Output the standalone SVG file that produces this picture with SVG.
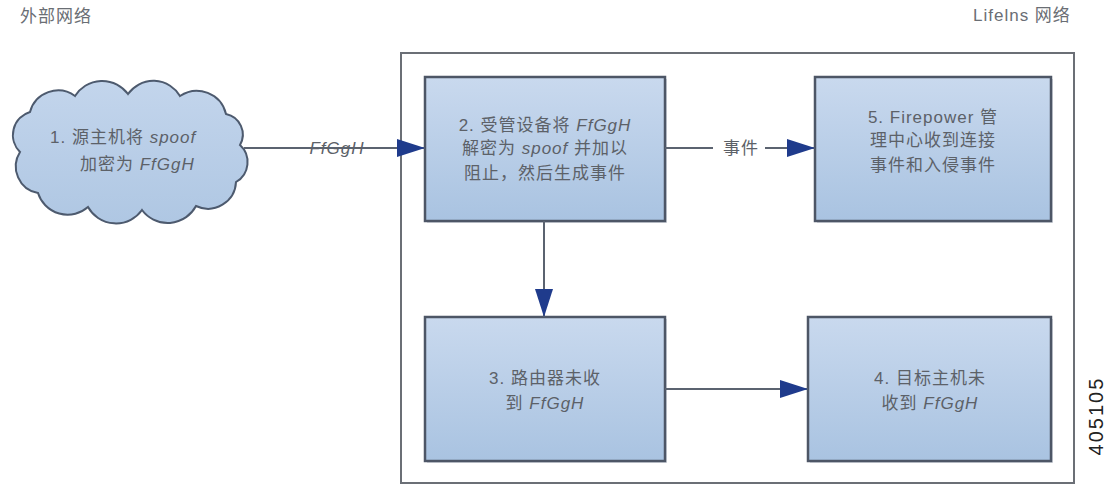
<svg xmlns="http://www.w3.org/2000/svg" width="1116" height="485" viewBox="0 0 1116 485">
<style>
  text { font-family: "Liberation Sans", "Noto Sans CJK SC", sans-serif; font-size: 17px; fill: #5c6168; letter-spacing: 1px; }
  .c { text-anchor: middle; }
  .i { font-style: italic; }
  .box { fill: url(#bg); stroke: #4d5666; stroke-width: 2.5; }
  .sh { fill: #8a96a8; opacity: 0.35; }
  .ln { stroke: #5b6370; stroke-width: 2; fill: none; }
  .lbl { fill: #6a6e74; }
</style>
<defs>
  <linearGradient id="bg" x1="0" y1="0" x2="0" y2="1">
    <stop offset="0" stop-color="#c9d9ee"/>
    <stop offset="1" stop-color="#a9c3e1"/>
  </linearGradient>
  <linearGradient id="cg" x1="0" y1="0" x2="0" y2="1">
    <stop offset="0" stop-color="#c3d5ec"/>
    <stop offset="1" stop-color="#afc7e3"/>
  </linearGradient>
  <marker id="ah" markerWidth="28" markerHeight="18" refX="28" refY="9" orient="auto" markerUnits="userSpaceOnUse">
    <path d="M0,0 L28,9 L0,18 z" fill="#1f3b8c"/>
  </marker>
</defs>
<rect width="1116" height="485" fill="#ffffff"/>

<g id="label-external"><text x="20" y="22" class="lbl">外部网络</text></g>
<g id="label-lifelns"><text x="973" y="21" class="lbl">Lifelns 网络</text></g>

<g id="lifelns-network">
  <rect x="401" y="53" width="673" height="430" fill="#ffffff" stroke="#6b6f76" stroke-width="2"/>
</g>

<g id="node1">
  <path d="M30,112 A29,29 0 0 1 75,96 A32,32 0 0 1 128,94 A31,31 0 0 1 180,96 A30,30 0 0 1 226,114 A21,21 0 0 1 240,145 A23,23 0 0 1 236,182 A28,28 0 0 1 196,206 A32,32 0 0 1 142,210 A32,32 0 0 1 88,207 A31,31 0 0 1 38,193 A27,27 0 0 1 20,152 A24,24 0 0 1 30,112 Z" fill="url(#cg)" stroke="#4d5a6e" stroke-width="2"/>
  <text x="50" y="143">1. 源主机将 <tspan class="i">spoof</tspan></text>
  <text x="80" y="170">加密为 <tspan class="i">FfGgH</tspan></text>
</g>

<g id="node2">
  <rect class="sh" x="427" y="79" width="240" height="144"/>
  <rect class="box" x="425" y="77" width="240" height="144"/>
  <text class="c" x="545" y="131">2. 受管设备将 <tspan class="i">FfGgH</tspan></text>
  <text class="c" x="545" y="154">解密为 <tspan class="i">spoof</tspan> 并加以</text>
  <text class="c" x="545" y="179">阻止，然后生成事件</text>
</g>

<g id="node5">
  <rect class="sh" x="817" y="79" width="236" height="144"/>
  <rect class="box" x="815" y="77" width="236" height="144"/>
  <text class="c" x="933" y="123">5. Firepower 管</text>
  <text class="c" x="933" y="146">理中心收到连接</text>
  <text class="c" x="933" y="171">事件和入侵事件</text>
</g>

<g id="node3">
  <rect class="sh" x="427" y="319" width="240" height="144"/>
  <rect class="box" x="425" y="317" width="240" height="144"/>
  <text class="c" x="545" y="384">3. 路由器未收</text>
  <text class="c" x="545" y="409">到 <tspan class="i">FfGgH</tspan></text>
</g>

<g id="node4">
  <rect class="sh" x="810" y="319" width="243" height="144"/>
  <rect class="box" x="808" y="317" width="243" height="144"/>
  <text class="c" x="930" y="384">4. 目标主机未</text>
  <text class="c" x="930" y="409">收到 <tspan class="i">FfGgH</tspan></text>
</g>

<g id="connectors">
  <line class="ln" x1="244" y1="148" x2="425" y2="148" marker-end="url(#ah)"/>
  <text class="c i" x="337" y="154">FfGgH</text>
  <line class="ln" x1="665" y1="148" x2="713" y2="148"/>
  <text class="c" x="741" y="154">事件</text>
  <line class="ln" x1="765" y1="148" x2="815" y2="148" marker-end="url(#ah)"/>
  <line class="ln" x1="544" y1="221" x2="544" y2="317" marker-end="url(#ah)"/>
  <line class="ln" x1="665" y1="389" x2="808" y2="389" marker-end="url(#ah)"/>
</g>

<g id="figure-id">
  <text transform="translate(1103,416) rotate(-90)" class="c" style="font-size:20px;fill:#222;letter-spacing:2px">405105</text>
</g>
</svg>
